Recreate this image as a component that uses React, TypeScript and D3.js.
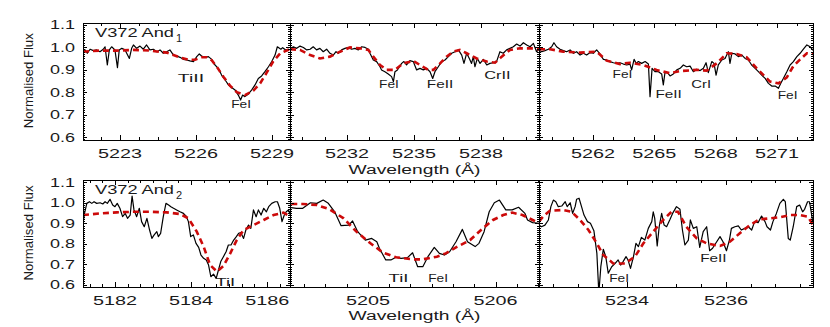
import React from 'react';
import * as d3 from 'd3';

type Pt = [number, number];

// ---------- data: observed spectra (wavelength Å, normalised flux) ----------
const obsTL: Pt[] = [[5221.54,0.980],[5221.62,0.988],[5221.71,0.973],[5221.82,0.991],[5221.95,0.985],[5222.08,0.988],[5222.21,0.980],[5222.34,0.991],[5222.41,1.002],[5222.50,0.921],[5222.58,0.988],[5222.67,1.002],[5222.80,0.988],[5222.90,0.909],[5222.97,0.988],[5223.07,0.995],[5223.20,0.988],[5223.37,0.950],[5223.46,0.995],[5223.53,1.010],[5223.66,0.995],[5223.79,1.005],[5223.92,0.991],[5224.05,1.010],[5224.18,0.988],[5224.32,0.991],[5224.45,0.980],[5224.58,0.988],[5224.71,0.973],[5224.84,0.980],[5224.97,0.988],[5225.11,0.965],[5225.24,0.961],[5225.37,0.955],[5225.50,0.946],[5225.63,0.943],[5225.76,0.939],[5225.90,0.936],[5226.03,0.958],[5226.13,0.970],[5226.22,0.961],[5226.36,0.955],[5226.49,0.958],[5226.62,0.946],[5226.75,0.921],[5226.88,0.906],[5227.01,0.876],[5227.15,0.854],[5227.28,0.832],[5227.41,0.821],[5227.54,0.810],[5227.67,0.787],[5227.76,0.765],[5227.84,0.787],[5227.93,0.780],[5228.07,0.792],[5228.20,0.810],[5228.33,0.832],[5228.46,0.861],[5228.59,0.872],[5228.72,0.891],[5228.86,0.913],[5228.99,0.936],[5229.12,0.965],[5229.21,1.002],[5229.35,0.991],[5229.42,0.998],[5229.54,0.988],[5229.67,0.988]];
const obsTM: Pt[] = [[5229.45,0.991],[5229.60,1.002],[5229.75,0.995],[5229.90,1.005],[5230.05,0.999],[5230.20,0.988],[5230.35,0.991],[5230.49,1.002],[5230.64,0.988],[5230.79,0.995],[5230.94,0.980],[5231.09,0.991],[5231.24,0.973],[5231.39,0.965],[5231.51,0.980],[5231.61,0.973],[5231.76,0.988],[5231.91,0.995],[5232.06,0.999],[5232.21,0.991],[5232.36,0.995],[5232.51,0.988],[5232.66,1.002],[5232.81,0.999],[5232.96,0.991],[5233.03,0.973],[5233.18,0.943],[5233.33,0.936],[5233.48,0.913],[5233.55,0.899],[5233.70,0.891],[5233.85,0.881],[5234.00,0.869],[5234.08,0.847],[5234.15,0.891],[5234.26,0.899],[5234.35,0.913],[5234.45,0.928],[5234.55,0.936],[5234.67,0.921],[5234.82,0.940],[5234.97,0.936],[5235.12,0.899],[5235.27,0.906],[5235.42,0.899],[5235.57,0.906],[5235.72,0.891],[5235.84,0.861],[5235.94,0.891],[5236.09,0.913],[5236.24,0.936],[5236.39,0.943],[5236.54,0.958],[5236.69,0.973],[5236.84,0.980],[5236.99,0.988],[5237.14,0.965],[5237.24,0.928],[5237.36,0.973],[5237.48,0.950],[5237.58,0.928],[5237.66,0.958],[5237.73,0.913],[5237.84,0.950],[5237.96,0.928],[5238.11,0.946],[5238.26,0.921],[5238.40,0.928],[5238.55,0.931],[5238.70,0.936],[5238.85,0.980],[5239.00,0.973],[5239.15,0.988],[5239.30,0.995],[5239.45,1.002],[5239.60,1.014],[5239.75,1.005],[5239.90,1.020],[5240.05,1.010],[5240.20,1.002],[5240.35,1.017],[5240.49,0.980],[5240.61,0.991]];
const obsTR: Pt[] = [[5259.36,0.988],[5259.49,0.980],[5259.65,0.985],[5259.82,0.991],[5259.98,1.002],[5260.09,1.020],[5260.22,1.002],[5260.39,0.991],[5260.55,0.985],[5260.71,0.980],[5260.88,0.988],[5261.04,0.973],[5261.20,0.980],[5261.37,0.965],[5261.53,0.973],[5261.69,0.965],[5261.86,0.976],[5262.02,0.973],[5262.18,0.988],[5262.34,0.970],[5262.51,0.946],[5262.67,0.943],[5262.83,0.936],[5263.00,0.931],[5263.16,0.928],[5263.32,0.931],[5263.49,0.925],[5263.65,0.921],[5263.81,0.925],[5263.89,0.899],[5264.01,0.946],[5264.11,0.928],[5264.22,0.936],[5264.38,0.928],[5264.55,0.936],[5264.71,0.925],[5264.79,0.780],[5264.89,0.906],[5265.03,0.891],[5265.20,0.891],[5265.36,0.881],[5265.44,0.832],[5265.52,0.887],[5265.64,0.887],[5265.77,0.872],[5265.93,0.881],[5266.10,0.899],[5266.26,0.906],[5266.42,0.921],[5266.58,0.913],[5266.75,0.916],[5266.91,0.891],[5267.07,0.902],[5267.24,0.896],[5267.40,0.906],[5267.53,0.931],[5267.64,0.887],[5267.81,0.936],[5267.92,0.928],[5268.02,0.876],[5268.13,0.921],[5268.30,0.943],[5268.46,0.950],[5268.54,0.965],[5268.62,0.980],[5268.70,0.928],[5268.79,0.973],[5268.95,0.970],[5269.11,0.958],[5269.28,0.965],[5269.44,0.950],[5269.60,0.943],[5269.76,0.921],[5269.93,0.906],[5270.09,0.891],[5270.25,0.876],[5270.42,0.861],[5270.58,0.839],[5270.74,0.827],[5270.91,0.827],[5271.07,0.817],[5271.18,0.839],[5271.31,0.861],[5271.48,0.891],[5271.64,0.921],[5271.80,0.936],[5271.97,0.958],[5272.13,0.973],[5272.29,0.991],[5272.46,1.010],[5272.62,1.002],[5272.78,0.985]];
const obsBL: Pt[] = [[5181.16,0.901],[5181.20,0.949],[5181.26,0.998],[5181.33,1.006],[5181.39,0.998],[5181.45,1.006],[5181.52,0.998],[5181.61,1.001],[5181.68,0.995],[5181.74,1.006],[5181.80,0.998],[5181.87,1.018],[5181.94,0.990],[5182.00,0.982],[5182.06,0.998],[5182.13,0.974],[5182.20,0.933],[5182.27,0.949],[5182.33,0.925],[5182.40,0.941],[5182.45,1.034],[5182.50,0.966],[5182.57,0.933],[5182.64,0.974],[5182.70,0.909],[5182.77,0.884],[5182.84,0.925],[5182.91,0.868],[5182.97,0.827],[5183.03,0.844],[5183.10,0.860],[5183.14,0.836],[5183.20,0.852],[5183.27,0.933],[5183.34,0.998],[5183.41,0.990],[5183.47,0.982],[5183.54,0.974],[5183.62,0.966],[5183.71,0.957],[5183.80,0.949],[5183.87,0.936],[5183.93,0.909],[5183.99,0.836],[5184.06,0.844],[5184.13,0.803],[5184.20,0.783],[5184.26,0.746],[5184.33,0.730],[5184.40,0.722],[5184.46,0.697],[5184.52,0.640],[5184.59,0.653],[5184.66,0.632],[5184.72,0.673],[5184.78,0.714],[5184.85,0.738],[5184.92,0.762],[5184.98,0.795],[5185.05,0.795],[5185.12,0.819],[5185.19,0.836],[5185.25,0.852],[5185.31,0.855],[5185.38,0.827],[5185.44,0.868],[5185.51,0.892],[5185.57,0.876],[5185.64,0.966],[5185.71,0.933],[5185.77,0.966],[5185.84,0.941],[5185.91,0.974],[5185.98,0.957],[5186.04,0.982],[5186.12,0.998],[5186.21,1.006],[5186.27,1.006],[5186.33,0.974],[5186.39,0.909],[5186.45,0.941],[5186.50,0.957],[5186.56,0.966],[5186.61,0.941]];
const obsBM: Pt[] = [[5204.40,0.977],[5204.44,0.974],[5204.49,0.974],[5204.55,1.001],[5204.60,0.998],[5204.65,1.014],[5204.69,0.998],[5204.74,0.957],[5204.79,0.889],[5204.85,0.892],[5204.88,0.912],[5204.92,0.860],[5204.98,0.819],[5205.03,0.827],[5205.07,0.811],[5205.09,0.779],[5205.14,0.722],[5205.18,0.722],[5205.22,0.735],[5205.26,0.730],[5205.31,0.733],[5205.35,0.757],[5205.39,0.689],[5205.43,0.689],[5205.47,0.738],[5205.52,0.783],[5205.56,0.754],[5205.60,0.746],[5205.64,0.762],[5205.69,0.811],[5205.74,0.871],[5205.78,0.811],[5205.84,0.787],[5205.87,0.803],[5205.91,0.860],[5205.95,0.957],[5205.99,1.001],[5206.03,1.014],[5206.08,0.966],[5206.13,0.966],[5206.18,0.979],[5206.23,0.949],[5206.25,0.917],[5206.29,0.904],[5206.34,0.901]];
const obsBR: Pt[] = [[5232.22,0.892],[5232.27,0.884],[5232.34,0.892],[5232.41,0.917],[5232.46,0.982],[5232.51,1.014],[5232.56,1.006],[5232.61,0.982],[5232.68,0.985],[5232.75,1.006],[5232.79,0.982],[5232.85,1.001],[5232.90,0.949],[5232.95,0.982],[5232.98,1.018],[5233.03,1.023],[5233.08,0.982],[5233.13,0.941],[5233.20,0.909],[5233.26,0.901],[5233.33,0.865],[5233.39,0.754],[5233.43,0.560],[5233.47,0.689],[5233.52,0.774],[5233.57,0.738],[5233.62,0.657],[5233.69,0.689],[5233.76,0.705],[5233.82,0.722],[5233.87,0.697],[5233.92,0.714],[5233.98,0.738],[5234.02,0.722],[5234.07,0.681],[5234.13,0.738],[5234.18,0.803],[5234.23,0.787],[5234.29,0.832],[5234.36,0.819],[5234.43,0.876],[5234.50,0.909],[5234.53,0.957],[5234.56,0.925],[5234.61,0.790],[5234.65,0.884],[5234.70,0.949],[5234.75,0.892],[5234.80,0.884],[5234.87,0.920],[5234.93,0.953],[5235.00,0.982],[5235.07,0.969],[5235.12,0.868],[5235.17,0.795],[5235.24,0.819],[5235.28,0.917],[5235.34,0.876],[5235.41,0.884],[5235.47,0.783],[5235.54,0.860],[5235.61,0.884],[5235.67,0.767],[5235.73,0.779],[5235.80,0.806],[5235.88,0.836],[5235.94,0.811],[5236.01,0.767],[5236.07,0.819],[5236.11,0.876],[5236.18,0.884],[5236.25,0.888],[5236.31,0.868],[5236.38,0.876],[5236.45,0.884],[5236.52,0.868],[5236.58,0.909],[5236.65,0.904],[5236.72,0.936],[5236.79,0.909],[5236.83,0.884],[5236.90,0.868],[5236.95,0.909],[5237.02,0.949],[5237.09,0.998],[5237.16,1.018],[5237.20,1.006],[5237.26,0.827],[5237.30,0.819],[5237.36,0.884],[5237.43,0.982],[5237.49,0.990],[5237.55,0.957],[5237.59,0.969],[5237.65,1.006],[5237.69,1.006],[5237.76,0.901]];

// ---------- data: model fits ----------
const modTL: Pt[] = [[5221.54,0.980],[5222.21,0.985],[5222.87,0.985],[5223.53,0.988],[5224.18,0.985],[5224.84,0.976],[5225.11,0.965],[5225.43,0.952],[5225.70,0.944],[5225.96,0.944],[5226.22,0.955],[5226.42,0.955],[5226.62,0.942],[5226.82,0.913],[5227.08,0.869],[5227.34,0.829],[5227.61,0.800],[5227.93,0.787],[5228.26,0.806],[5228.53,0.839],[5228.79,0.887],[5229.05,0.937],[5229.32,0.972],[5229.67,0.990]];
const modTM: Pt[] = [[5229.45,0.991],[5229.90,0.988],[5230.35,0.965],[5230.79,0.950],[5231.24,0.958],[5231.69,0.980],[5232.14,0.999],[5232.58,0.995],[5232.96,0.988],[5233.18,0.958],[5233.48,0.921],[5233.78,0.899],[5234.15,0.899],[5234.52,0.928],[5234.97,0.939],[5235.27,0.921],[5235.64,0.899],[5235.87,0.899],[5236.17,0.928],[5236.46,0.958],[5236.76,0.980],[5237.06,0.988],[5237.36,0.973],[5237.81,0.950],[5238.26,0.936],[5238.63,0.931],[5238.93,0.958],[5239.30,0.988],[5239.75,0.995],[5240.35,0.995],[5240.61,0.991]];
const modTR: Pt[] = [[5259.36,0.991],[5259.90,0.991],[5260.55,0.980],[5261.37,0.976],[5262.18,0.980],[5262.67,0.940],[5263.32,0.925],[5263.81,0.931],[5264.46,0.921],[5265.11,0.899],[5265.77,0.884],[5266.26,0.894],[5267.07,0.899],[5267.56,0.896],[5268.05,0.928],[5268.54,0.973],[5269.03,0.970],[5269.52,0.955],[5270.01,0.906],[5270.34,0.876],[5270.66,0.847],[5271.07,0.839],[5271.48,0.866],[5271.80,0.916],[5272.13,0.946],[5272.46,0.973],[5272.78,0.970]];
const modBL: Pt[] = [[5181.16,0.941],[5181.61,0.949],[5182.05,0.954],[5182.49,0.957],[5182.92,0.957],[5183.36,0.954],[5183.71,0.946],[5183.93,0.925],[5184.15,0.860],[5184.33,0.787],[5184.50,0.697],[5184.68,0.665],[5184.85,0.692],[5185.03,0.754],[5185.20,0.819],[5185.38,0.868],[5185.64,0.892],[5185.91,0.917],[5186.17,0.941],[5186.43,0.953],[5186.61,0.933]];
const modBM: Pt[] = [[5204.40,0.995],[5204.49,0.995],[5204.60,0.990],[5204.70,0.969],[5204.81,0.925],[5204.91,0.860],[5205.02,0.803],[5205.12,0.757],[5205.22,0.735],[5205.35,0.725],[5205.43,0.725],[5205.54,0.738],[5205.61,0.754],[5205.69,0.783],[5205.80,0.819],[5205.90,0.876],[5205.98,0.917],[5206.06,0.941],[5206.13,0.953],[5206.21,0.941],[5206.29,0.917],[5206.34,0.901]];
const modBR: Pt[] = [[5232.22,0.909],[5232.31,0.936],[5232.44,0.962],[5232.71,0.966],[5232.88,0.957],[5233.05,0.917],[5233.22,0.868],[5233.39,0.803],[5233.52,0.746],[5233.72,0.705],[5233.96,0.705],[5234.16,0.738],[5234.33,0.803],[5234.53,0.860],[5234.73,0.917],[5234.90,0.957],[5235.03,0.957],[5235.20,0.884],[5235.41,0.827],[5235.61,0.803],[5235.88,0.790],[5236.08,0.811],[5236.28,0.852],[5236.48,0.892],[5236.68,0.920],[5236.89,0.925],[5237.09,0.930],[5237.29,0.941],[5237.49,0.941],[5237.66,0.933],[5237.76,0.892]];

// ---------- axes ----------
const xDomTL: Pt = [5221.54, 5229.71];
const xDomTM: Pt = [5229.45, 5240.6];
const xDomTR: Pt = [5259.36, 5272.76];
const xDomBL: Pt = [5181.16, 5186.6];
const xDomBM: Pt = [5204.39, 5206.34];
const xDomBR: Pt = [5232.22, 5237.76];
const yDomTop: Pt = [0.587, 1.11];
const yDomBot: Pt = [0.59, 1.112];

const xTicksTL = [5223, 5226, 5229];
const xTicksTM = [5232, 5235, 5238];
const xTicksTR = [5262, 5265, 5268, 5271];
const xTicksBL = [5182, 5184, 5186];
const xTicksBM = [5205, 5206];
const xTicksBR = [5234, 5236];
const yTicks = [0.6, 0.7, 0.8, 0.9, 1.0, 1.1];
const yTickLabels = ['0.6', '0.7', '0.8', '0.9', '1.0', '1.1'];

// ---------- line identifications: [label, wavelength, flux at baseline] ----------
type Lab = [string, number, number];
const labTL: Lab[] = [['TiII', 5225.80, 0.845], ['FeI', 5227.78, 0.729]];
const labTM: Lab[] = [['FeI', 5233.88, 0.818], ['FeII', 5236.17, 0.818], ['CrII', 5238.74, 0.860]];
const labTR: Lab[] = [['FeI', 5263.44, 0.863], ['FeII', 5265.70, 0.774], ['CrI', 5267.29, 0.818], ['FeI', 5271.52, 0.769]];
const labBL: Lab[] = [['TiI', 5184.90, 0.594]];
const labBM: Lab[] = [['TiI', 5205.24, 0.614], ['FeI', 5205.55, 0.614]];
const labBR: Lab[] = [['FeI', 5233.84, 0.614], ['FeII', 5235.745, 0.712]];

const stars = ['V372 And', 'V372 And'];
const starSubs = ['1', '2'];

const FONT = "'Liberation Sans', 'DejaVu Sans', sans-serif";
const INK = '#1a1a1a';
const RED = '#cc0a0a';

interface PanelDef {
  id: string;
  x0: number; x1: number; y0: number; y1: number;
  xDom: Pt; yDom: Pt;
  xTicks: number[]; xMinor: number;
  obs: Pt[]; mod: Pt[]; labs: Lab[];
  first: boolean;
}

const colX: Pt[] = [[83, 290], [290, 539], [539, 813]];
const rowY: Pt[] = [[22.5, 140], [180, 287]];

const panels: PanelDef[] = [
  { id: 'tl', x0: colX[0][0], x1: colX[0][1], y0: rowY[0][0], y1: rowY[0][1], xDom: xDomTL, yDom: yDomTop, xTicks: xTicksTL, xMinor: 0.75, obs: obsTL, mod: modTL, labs: labTL, first: true },
  { id: 'tm', x0: colX[1][0], x1: colX[1][1], y0: rowY[0][0], y1: rowY[0][1], xDom: xDomTM, yDom: yDomTop, xTicks: xTicksTM, xMinor: 1, obs: obsTM, mod: modTM, labs: labTM, first: false },
  { id: 'tr', x0: colX[2][0], x1: colX[2][1], y0: rowY[0][0], y1: rowY[0][1], xDom: xDomTR, yDom: yDomTop, xTicks: xTicksTR, xMinor: 1, obs: obsTR, mod: modTR, labs: labTR, first: false },
  { id: 'bl', x0: colX[0][0], x1: colX[0][1], y0: rowY[1][0], y1: rowY[1][1], xDom: xDomBL, yDom: yDomBot, xTicks: xTicksBL, xMinor: 1 / 3, obs: obsBL, mod: modBL, labs: labBL, first: true },
  { id: 'bm', x0: colX[1][0], x1: colX[1][1], y0: rowY[1][0], y1: rowY[1][1], xDom: xDomBM, yDom: yDomBot, xTicks: xTicksBM, xMinor: 1 / 6, obs: obsBM, mod: modBM, labs: labBM, first: false },
  { id: 'br', x0: colX[2][0], x1: colX[2][1], y0: rowY[1][0], y1: rowY[1][1], xDom: xDomBR, yDom: yDomBot, xTicks: xTicksBR, xMinor: 0.5, obs: obsBR, mod: modBR, labs: labBR, first: false },
];

function minorTicks(dom: Pt, anchor: number, step: number): number[] {
  const out: number[] = [];
  const kStart = Math.ceil((dom[0] - anchor) / step - 1e-6);
  const kEnd = Math.floor((dom[1] - anchor) / step + 1e-6);
  for (let k = kStart; k <= kEnd; k++) out.push(anchor + k * step);
  return out;
}

function Panel({ p }: { p: PanelDef }) {
  const x = d3.scaleLinear().domain(p.xDom).range([p.x0, p.x1]);
  const y = d3.scaleLinear().domain(p.yDom).range([p.y1, p.y0]);
  const line = d3.line<Pt>().x(d => x(d[0])).y(d => y(d[1]));
  const xMin = minorTicks(p.xDom, p.xTicks[0], p.xMinor);
  const yMin = minorTicks(p.yDom, 0.6, 0.01);
  const cid = 'clip-' + p.id;
  const tl: React.ReactNode[] = [];
  xMin.forEach((v, i) => {
    const isMaj = p.xTicks.some(t => Math.abs(t - v) < 1e-6);
    const L = isMaj ? 5 : 3;
    const xx = Math.round(x(v)) + 0.5;
    tl.push(<line key={'xb' + i} x1={xx} x2={xx} y1={p.y1} y2={p.y1 - L} />);
    tl.push(<line key={'xt' + i} x1={xx} x2={xx} y1={p.y0} y2={p.y0 + L} />);
  });
  yMin.forEach((v, i) => {
    const isMaj = yTicks.some(t => Math.abs(t - v) < 1e-6);
    const L = isMaj ? 4 : 2;
    const yy = Math.round(y(v)) + 0.5;
    tl.push(<line key={'yl' + i} x1={p.x0} x2={p.x0 + L} y1={yy} y2={yy} />);
    tl.push(<line key={'yr' + i} x1={p.x1} x2={p.x1 - L} y1={yy} y2={yy} />);
  });
  const tickBase = p.y1 + (p.first && p.y0 > 100 ? 18.5 : 18);
  return (
    <g>
      <defs>
        <clipPath id={cid}>
          <rect x={p.x0} y={p.y0} width={p.x1 - p.x0} height={p.y1 - p.y0} />
        </clipPath>
      </defs>
      <g clipPath={`url(#${cid})`}>
        <path d={line(p.obs) || ''} fill="none" stroke="#000" strokeWidth={1.2} strokeLinejoin="round" />
        <path d={line(p.mod) || ''} fill="none" stroke={RED} strokeWidth={2.6} strokeDasharray="6,4" />
      </g>
      <rect x={p.x0 + 0.5} y={p.y0 + 0.5} width={p.x1 - p.x0} height={p.y1 - p.y0} fill="none" stroke="#000" strokeWidth={1} shapeRendering="crispEdges" />
      <g stroke="#000" strokeWidth={1} shapeRendering="crispEdges">{tl}</g>
      {p.xTicks.map(t => (
        <text key={'xl' + t} x={x(t)} y={p.y0 > 100 ? p.y1 + 18 : tickBase} textAnchor="middle" fontSize={12} fontFamily={FONT} fill={INK}
          textLength={44} lengthAdjust="spacingAndGlyphs">{String(t)}</text>
      ))}
      {p.first && yTicks.map((t, i) => (
        <text key={'yl' + t} x={75} y={y(t) + 4.5} textAnchor="end" fontSize={12} fontFamily={FONT} fill={INK}
          textLength={25} lengthAdjust="spacingAndGlyphs">{yTickLabels[i]}</text>
      ))}
      {p.labs.map((l, i) => (
        <text key={'lab' + i} x={x(l[1])} y={y(l[2])} textAnchor="middle" fontSize={11} fontFamily={FONT} fill={INK}
          textLength={l[0].length * 6.6} lengthAdjust="spacingAndGlyphs">{l[0]}</text>
      ))}
    </g>
  );
}

export default function App() {
  return (
    <svg width={830} height={327} viewBox="0 0 830 327" style={{ display: 'block', position: 'absolute', left: 0, top: 0, background: '#fff' }}>
      <rect x={0} y={0} width={830} height={327} fill="#fff" />
      {panels.map(p => <Panel key={p.id} p={p} />)}
      {rowY.map((r, i) => (
        <g key={'row' + i}>
          <text transform={`translate(33, ${(r[0] + r[1]) / 2 - 0.5}) rotate(-90)`} textAnchor="middle" fontSize={13}
            fontFamily={FONT} fill={INK} textLength={95} lengthAdjust="spacingAndGlyphs">Normalised Flux</text>
          <text x={95} y={r[0] + (i === 0 ? 14.5 : 13.5)} fontSize={12.5} fontFamily={FONT} fill={INK} textLength={79} lengthAdjust="spacingAndGlyphs">{stars[i]}</text>
          <text x={176} y={r[0] + (i === 0 ? 19.5 : 18.5)} fontSize={11} fontFamily={FONT} fill={INK}>{starSubs[i]}</text>
          <text x={414.5} y={i === 0 ? r[1] + 34 : 320} textAnchor="middle" fontSize={12} fontFamily={FONT} fill={INK}
            textLength={132} lengthAdjust="spacingAndGlyphs">Wavelength (Å)</text>
        </g>
      ))}
    </svg>
  );
}
